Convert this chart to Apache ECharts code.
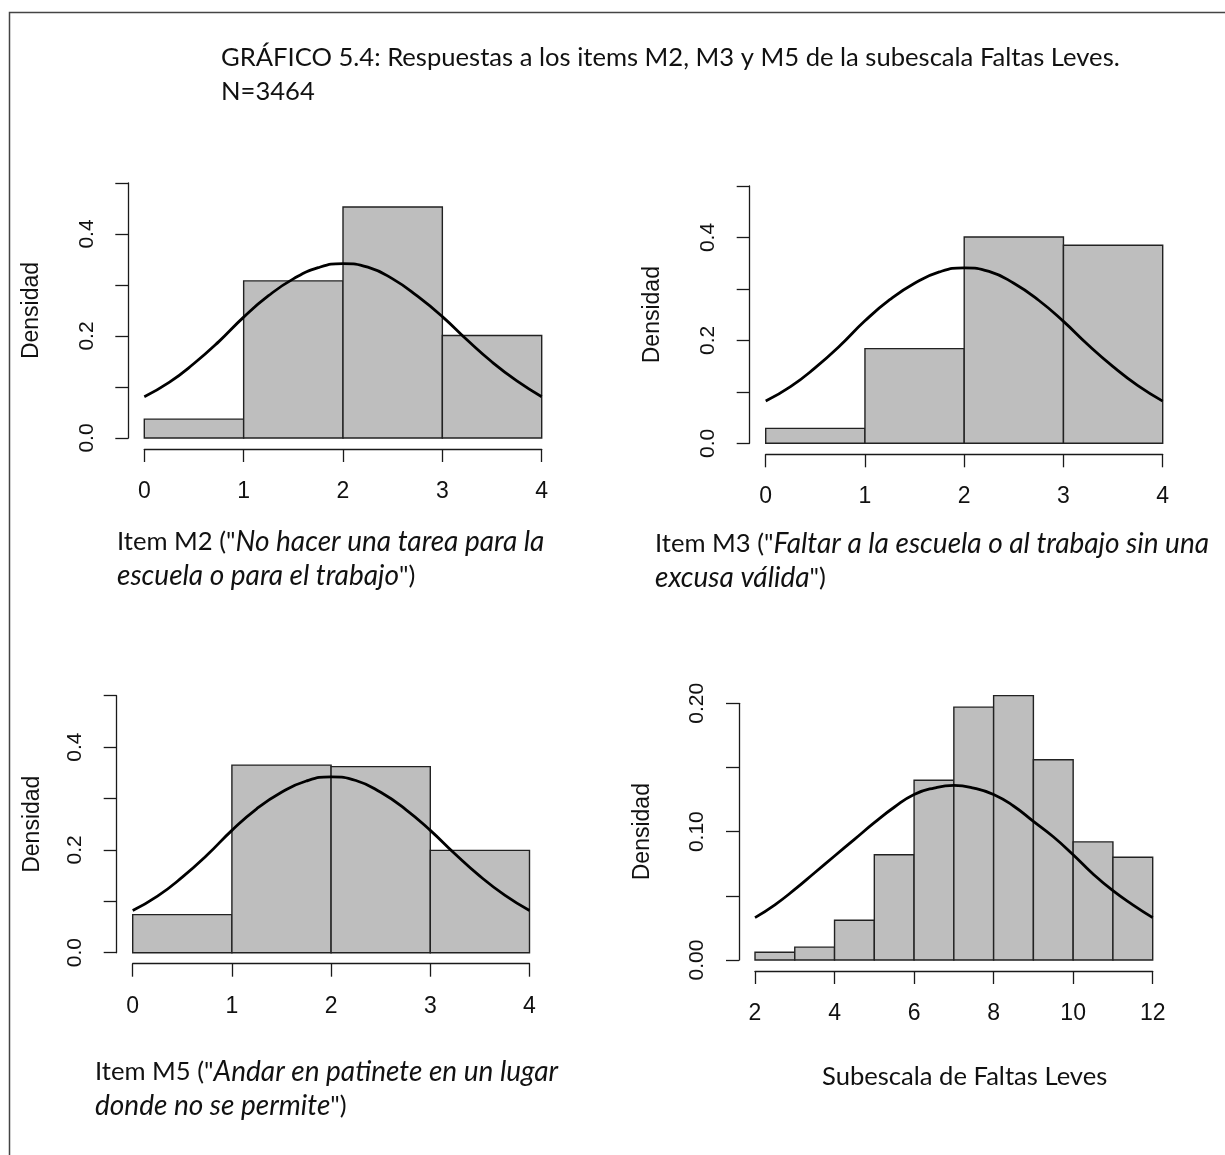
<!DOCTYPE html>
<html><head><meta charset="utf-8">
<script src="https://cdn.jsdelivr.net/npm/echarts/dist/echarts.min.js"></script>
<style>html,body{margin:0;padding:0;background:#fff}#chart{width:1225px;height:1155px}</style>
</head><body><div id="chart"></div>
<script>
// ---------- DATA ----------
const itemBreaks = [0, 1, 2, 3, 4];
const m2Density = [0.037, 0.308, 0.453, 0.201];
const m3Density = [0.029, 0.184, 0.401, 0.385];
const m5Density = [0.074, 0.365, 0.362, 0.199];

const subBreaks = [2, 3, 4, 5, 6, 7, 8, 9, 10, 11, 12];
const subDensity = [0.006, 0.010, 0.031, 0.082, 0.140, 0.197, 0.206, 0.156, 0.092, 0.080];

// normal-curve overlays, points
const itemCurveX = [0, 0.25, 0.5, 0.75, 1, 1.25, 1.5, 1.75, 2, 2.25, 2.5, 2.75, 3, 3.25, 3.5, 3.75, 4];
const m2CurveY = [0.081, 0.109, 0.146, 0.189, 0.237, 0.279, 0.312, 0.334, 0.342, 0.335, 0.312, 0.278, 0.238, 0.192, 0.149, 0.112, 0.081];
const m3CurveY = [0.082, 0.110, 0.147, 0.190, 0.238, 0.279, 0.311, 0.333, 0.341, 0.334, 0.311, 0.278, 0.237, 0.191, 0.149, 0.112, 0.082];
const m5CurveY = [0.082, 0.110, 0.147, 0.190, 0.238, 0.280, 0.312, 0.334, 0.342, 0.335, 0.312, 0.279, 0.238, 0.192, 0.149, 0.112, 0.082];
const subCurveX = [2, 2.5, 3, 3.5, 4, 4.5, 5, 5.5, 6, 6.5, 7, 7.5, 8, 8.5, 9, 9.5, 10, 10.5, 11, 11.5, 12];
const subCurveY = [0.033, 0.043, 0.055, 0.068, 0.081, 0.094, 0.107, 0.119, 0.129, 0.134, 0.136, 0.134, 0.129, 0.120, 0.108, 0.096, 0.082, 0.067, 0.054, 0.043, 0.033];

// tick labels
const itemXTicks = [0, 1, 2, 3, 4];
const itemXLabels = ['0', '1', '2', '3', '4'];
const subXTicks = [2, 4, 6, 8, 10, 12];
const subXLabels = ['2', '4', '6', '8', '10', '12'];
const itemYTicks = [0, 0.1, 0.2, 0.3, 0.4, 0.5];
const itemYLabels = ['0.0', '', '0.2', '', '0.4', ''];
const subYTicks = [0, 0.05, 0.10, 0.15, 0.20];
const subYLabels = ['0.00', '', '0.10', '', '0.20'];

// texts
const mainTitle = 'GRÁFICO 5.4: Respuestas a los items M2, M3 y M5 de la subescala Faltas Leves.\nN=3464';
const yName = 'Densidad';
const xTitleM2 = '{n|Item M2 ("}{i|No hacer una tarea para la}\n{i|escuela o para el trabajo}{n|")}';
const xTitleM3 = '{n|Item M3 ("}{i|Faltar a la escuela o al trabajo sin una}\n{i|excusa válida}{n|")}';
const xTitleM5 = '{n|Item M5 ("}{i|Andar en patinete en un lugar}\n{i|donde no se permite}{n|")}';
const xTitleSub = 'Subescala de Faltas Leves';

// ---------- CHART ----------
const AX = '#1a1a1a';
const LBL_FONT = 'Liberation Sans';
const CAP_FONT = 'Lato';
const CAP_SIZE = 25.6;

function labelFrom(ticks, labels) {
  return function (v) {
    for (let i = 0; i < ticks.length; i++) if (Math.abs(ticks[i] - v) < 1e-9) return labels[i];
    return '';
  };
}

const panels = [
  { grid: { left: 144.3, top: 183, width: 397.4, height: 255 }, breaks: itemBreaks, dens: m2Density, cx: itemCurveX, cy: m2CurveY,
    xmin: 0, xmax: 4, xint: 1, ymax: 0.5, yint: 0.1, xt: itemXTicks, xl: itemXLabels, yt: itemYTicks, yl: itemYLabels, nameGap: 85 },
  { grid: { left: 765.7, top: 186, width: 397, height: 257.3 }, breaks: itemBreaks, dens: m3Density, cx: itemCurveX, cy: m3CurveY,
    xmin: 0, xmax: 4, xint: 1, ymax: 0.5, yint: 0.1, xt: itemXTicks, xl: itemXLabels, yt: itemYTicks, yl: itemYLabels, nameGap: 86 },
  { grid: { left: 132.7, top: 695.7, width: 396.8, height: 257 }, breaks: itemBreaks, dens: m5Density, cx: itemCurveX, cy: m5CurveY,
    xmin: 0, xmax: 4, xint: 1, ymax: 0.5, yint: 0.1, xt: itemXTicks, xl: itemXLabels, yt: itemYTicks, yl: itemYLabels, nameGap: 73 },
  { grid: { left: 755, top: 703.3, width: 397.7, height: 256.7 }, breaks: subBreaks, dens: subDensity, cx: subCurveX, cy: subCurveY,
    xmin: 2, xmax: 12, xint: 2, ymax: 0.2, yint: 0.05, xt: subXTicks, xl: subXLabels, yt: subYTicks, yl: subYLabels, nameGap: 85 }
];

const grids = [], xAxes = [], yAxes = [], series = [];
panels.forEach((p, i) => {
  grids.push(Object.assign({ containLabel: false }, p.grid));
  xAxes.push({
    type: 'value', gridIndex: i, min: p.xmin, max: p.xmax, interval: p.xint, offset: 11,
    axisLine: { show: true, onZero: false, lineStyle: { color: AX, width: 1.3 } },
    axisTick: { show: true, length: 13, lineStyle: { color: AX, width: 1.3 } },
    splitLine: { show: false },
    axisLabel: { margin: 31, fontFamily: LBL_FONT, fontSize: 23, color: '#111', formatter: labelFrom(p.xt, p.xl) }
  });
  yAxes.push({
    type: 'value', gridIndex: i, min: 0, max: p.ymax, interval: p.yint, offset: 16,
    name: yName, nameLocation: 'middle', nameGap: p.nameGap, nameRotate: 90,
    nameTextStyle: { fontFamily: LBL_FONT, fontSize: 23, color: '#111' },
    axisLine: { show: true, onZero: false, lineStyle: { color: AX, width: 1.3 } },
    axisTick: { show: true, length: 13, lineStyle: { color: AX, width: 1.3 } },
    splitLine: { show: false },
    axisLabel: { rotate: 90, margin: 31, fontFamily: LBL_FONT, fontSize: 21, color: '#111', formatter: labelFrom(p.yt, p.yl), showMinLabel: true, showMaxLabel: true }
  });
  series.push({
    type: 'custom', xAxisIndex: i, yAxisIndex: i, clip: false, z: 2,
    data: p.dens.map((d, k) => [p.breaks[k], p.breaks[k + 1], d]),
    encode: { x: [0, 1], y: 2 },
    renderItem: function (params, api) {
      const a = api.coord([api.value(0), 0]);
      const b = api.coord([api.value(1), api.value(2)]);
      return { type: 'rect', shape: { x: a[0], y: b[1], width: b[0] - a[0], height: a[1] - b[1] },
        style: { fill: '#bebebe', stroke: '#222', lineWidth: 1.4 } };
    }
  });
  series.push({
    type: 'line', xAxisIndex: i, yAxisIndex: i, z: 5, smooth: true, showSymbol: false, silent: true,
    data: p.cx.map((x, k) => [x, p.cy[k]]),
    lineStyle: { color: '#000', width: 2.8 }
  });
});

const capRich = {
  n: { fontFamily: CAP_FONT, fontSize: CAP_SIZE, fontWeight: 'normal', color: '#111', lineHeight: 34 },
  i: { fontFamily: CAP_FONT, fontSize: 28, fontWeight: 'normal', fontStyle: 'italic', color: '#111', lineHeight: 34 }
};

const titles = [
  { text: mainTitle, left: 221, top: 41, padding: 0, textStyle: { fontFamily: CAP_FONT, fontSize: CAP_SIZE, fontWeight: 'normal', color: '#111', lineHeight: 34 } },
  { text: xTitleM2, left: 117, top: 525, padding: 0, textStyle: { fontWeight: 'normal', rich: capRich } },
  { text: xTitleM3, left: 655, top: 527, padding: 0, textStyle: { fontWeight: 'normal', rich: capRich } },
  { text: xTitleM5, left: 95, top: 1055, padding: 0, textStyle: { fontWeight: 'normal', rich: capRich } },
  { text: xTitleSub, left: 822, top: 1060, padding: 0, textStyle: { fontFamily: CAP_FONT, fontSize: CAP_SIZE, fontWeight: 'normal', color: '#111', lineHeight: 34 } }
];

const chart = echarts.init(document.getElementById('chart'), null, { renderer: 'canvas' });
chart.setOption({
  backgroundColor: '#fff',
  animation: false,
  title: titles,
  grid: grids,
  xAxis: xAxes,
  yAxis: yAxes,
  series: series,
  graphic: [{ type: 'rect', shape: { x: 9.5, y: 12.5, width: 1400, height: 1400 }, style: { fill: 'none', stroke: '#444', lineWidth: 1.5 }, silent: true }]
});
</script></body></html>
